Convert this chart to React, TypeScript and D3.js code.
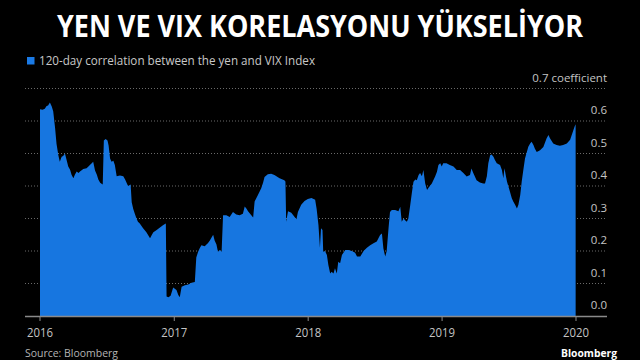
import { useMemo, useRef, useState, useLayoutEffect } from "react";
import * as d3 from "d3";

const W = 640;
const H = 360;

const TITLE = "YEN VE VIX KORELASYONU YÜKSELİYOR";
const LEGEND_LABEL = "120-day correlation between the yen and VIX Index";
const UNIT_LABEL = "coefficient";

const yTicks = [0, 0.1, 0.2, 0.3, 0.4, 0.5, 0.6, 0.7];
const yearTicks = [2016, 2017, 2018, 2019, 2020];

// 120-day correlation
const dates = [
  "2016-01-01", "2016-01-08", "2016-01-14", "2016-01-19", "2016-01-23", "2016-01-28",
  "2016-02-02", "2016-02-06", "2016-02-11", "2016-02-15", "2016-02-20", "2016-02-24",
  "2016-02-29", "2016-03-04", "2016-03-09", "2016-03-13", "2016-03-18", "2016-03-23",
  "2016-03-27", "2016-04-01", "2016-04-05", "2016-04-10", "2016-04-15", "2016-04-19",
  "2016-04-28", "2016-05-07", "2016-05-12", "2016-05-16", "2016-05-21", "2016-05-25",
  "2016-05-30", "2016-06-04", "2016-06-08", "2016-06-13", "2016-06-20", "2016-06-23",
  "2016-06-28", "2016-07-03", "2016-07-06", "2016-07-10", "2016-07-14", "2016-07-19",
  "2016-07-23", "2016-07-28", "2016-08-06", "2016-08-15", "2016-08-20", "2016-08-28",
  "2016-09-04", "2016-09-07", "2016-09-11", "2016-09-15", "2016-09-20", "2016-09-24",
  "2016-09-29", "2016-10-08", "2016-10-17", "2016-10-27", "2016-11-01", "2016-11-05",
  "2016-11-14", "2016-11-23", "2016-12-02", "2016-12-09", "2016-12-11", "2016-12-16",
  "2016-12-22", "2016-12-29", "2017-01-07", "2017-01-12", "2017-01-16", "2017-01-21",
  "2017-01-30", "2017-02-08", "2017-02-17", "2017-02-26", "2017-03-02", "2017-03-07",
  "2017-03-12", "2017-03-16", "2017-03-25", "2017-04-03", "2017-04-08", "2017-04-17",
  "2017-04-21", "2017-04-26", "2017-04-30", "2017-05-05", "2017-05-10", "2017-05-14",
  "2017-05-23", "2017-06-01", "2017-06-10", "2017-06-19", "2017-06-28", "2017-07-07",
  "2017-07-12", "2017-07-17", "2017-07-21", "2017-07-30", "2017-08-04", "2017-08-08",
  "2017-08-17", "2017-08-26", "2017-08-31", "2017-09-04", "2017-09-13", "2017-09-22",
  "2017-10-01", "2017-10-15", "2017-10-28", "2017-10-31", "2017-11-02", "2017-11-07",
  "2017-11-16", "2017-11-25", "2017-11-30", "2017-12-04", "2017-12-13", "2017-12-22",
  "2017-12-31", "2018-01-10", "2018-01-20", "2018-01-24", "2018-01-29", "2018-02-02",
  "2018-02-05", "2018-02-09", "2018-02-11", "2018-02-16", "2018-02-21", "2018-02-25",
  "2018-03-02", "2018-03-06", "2018-03-11", "2018-03-15", "2018-03-20", "2018-03-24",
  "2018-03-29", "2018-04-03", "2018-04-12", "2018-04-21", "2018-04-30", "2018-05-09",
  "2018-05-14", "2018-05-23", "2018-06-01", "2018-06-10", "2018-06-19", "2018-06-28",
  "2018-07-07", "2018-07-16", "2018-07-21", "2018-07-25", "2018-07-30", "2018-08-03",
  "2018-08-08", "2018-08-12", "2018-08-17", "2018-08-26", "2018-09-04", "2018-09-09",
  "2018-09-13", "2018-09-18", "2018-09-22", "2018-09-27", "2018-10-01", "2018-10-06",
  "2018-10-11", "2018-10-15", "2018-10-20", "2018-10-24", "2018-10-29", "2018-11-02",
  "2018-11-07", "2018-11-11", "2018-11-16", "2018-11-21", "2018-11-25", "2018-12-04",
  "2018-12-13", "2018-12-18", "2018-12-22", "2018-12-27", "2018-12-31", "2019-01-04",
  "2019-01-13", "2019-01-22", "2019-02-01", "2019-02-10", "2019-02-19", "2019-02-28",
  "2019-03-09", "2019-03-18", "2019-03-22", "2019-03-27", "2019-04-05", "2019-04-14",
  "2019-04-23", "2019-04-28", "2019-05-03", "2019-05-07", "2019-05-12", "2019-05-16",
  "2019-05-21", "2019-05-25", "2019-05-30", "2019-06-08", "2019-06-13", "2019-06-17",
  "2019-06-20", "2019-06-24", "2019-06-27", "2019-07-01", "2019-07-05", "2019-07-10",
  "2019-07-14", "2019-07-19", "2019-07-24", "2019-07-28", "2019-08-02", "2019-08-06",
  "2019-08-11", "2019-08-15", "2019-08-20", "2019-08-24", "2019-08-29", "2019-09-02",
  "2019-09-07", "2019-09-11", "2019-09-16", "2019-09-25", "2019-10-04", "2019-10-13",
  "2019-10-18", "2019-10-22", "2019-10-31", "2019-11-09", "2019-11-18", "2019-11-27",
  "2019-12-07", "2019-12-16", "2019-12-22", "2019-12-28", "2019-12-31",
];

const values = [
  0.636, 0.635, 0.638, 0.646, 0.648, 0.657,
  0.645, 0.63, 0.58, 0.53, 0.495, 0.475,
  0.49, 0.492, 0.5, 0.482, 0.46, 0.45,
  0.435, 0.424, 0.435, 0.445, 0.44, 0.445,
  0.452, 0.455, 0.46, 0.465, 0.47, 0.475,
  0.448, 0.435, 0.42, 0.41, 0.405, 0.54,
  0.545, 0.54, 0.525, 0.485, 0.475, 0.478,
  0.465, 0.43, 0.432, 0.43, 0.42, 0.4,
  0.405, 0.35, 0.33, 0.316, 0.3, 0.29,
  0.285, 0.27, 0.258, 0.239, 0.25, 0.258,
  0.265, 0.272, 0.28, 0.285, 0.06, 0.058,
  0.062, 0.088, 0.08, 0.065, 0.058, 0.09,
  0.095, 0.097, 0.102, 0.105, 0.18, 0.198,
  0.21, 0.218, 0.215, 0.225, 0.232, 0.25,
  0.232, 0.22, 0.198, 0.203, 0.198, 0.31,
  0.31, 0.305, 0.32, 0.312, 0.31, 0.315,
  0.337, 0.33, 0.322, 0.31, 0.303, 0.352,
  0.372, 0.393, 0.41, 0.428, 0.436, 0.438,
  0.434, 0.424, 0.418, 0.414, 0.29, 0.322,
  0.318, 0.305, 0.298, 0.32, 0.342, 0.354,
  0.36, 0.363, 0.358, 0.33, 0.28, 0.21,
  0.27, 0.265, 0.198, 0.2, 0.188, 0.157,
  0.131, 0.136, 0.131, 0.147, 0.131, 0.167,
  0.162, 0.188, 0.203, 0.203, 0.2, 0.195,
  0.183, 0.183, 0.2, 0.21, 0.218, 0.224,
  0.229, 0.249, 0.254, 0.208, 0.183, 0.2,
  0.27, 0.32, 0.326, 0.326, 0.322, 0.336,
  0.29, 0.3, 0.295, 0.29, 0.3, 0.34,
  0.382, 0.413, 0.42, 0.418, 0.434, 0.44,
  0.43, 0.449, 0.408, 0.388, 0.395, 0.408,
  0.429, 0.444, 0.465, 0.47, 0.46, 0.47,
  0.47, 0.465, 0.46, 0.449, 0.449, 0.44,
  0.429, 0.434, 0.454, 0.44, 0.418, 0.411,
  0.408, 0.408, 0.43, 0.47, 0.495, 0.497,
  0.49, 0.48, 0.47, 0.465, 0.449, 0.424,
  0.455, 0.43, 0.413, 0.398, 0.382, 0.362,
  0.352, 0.342, 0.331, 0.342, 0.372, 0.413,
  0.454, 0.485, 0.505, 0.521, 0.531, 0.536,
  0.526, 0.515, 0.505, 0.51, 0.52, 0.547,
  0.557, 0.547, 0.531, 0.526, 0.524, 0.526,
  0.531, 0.542, 0.562, 0.582, 0.59,
];

const FONT = "'Open Sans', sans-serif";
const TITLE_WIDTH = 526;

export default function App() {
  const parse = d3.timeParse("%Y-%m-%d");
  const data = useMemo(
    () => dates.map((d, i) => ({ date: parse(d)!, value: values[i] })),
    []
  );

  // title is drawn in a regular font and squeezed to the condensed width
  const titleRef = useRef<SVGTextElement>(null);
  const [titleScale, setTitleScale] = useState(0.78);
  useLayoutEffect(() => {
    const w = titleRef.current?.getComputedTextLength();
    if (w) setTitleScale(TITLE_WIDTH / w);
  }, []);

  const gridLeft = 25;
  const gridRight = 607;

  const x = d3
    .scaleTime()
    .domain([new Date(2016, 0, 1), new Date(2020, 0, 1)])
    .range([40, 576]);
  const y = d3.scaleLinear().domain([0, 0.7]).range([316, 88.5]);

  const area = d3
    .area<{ date: Date; value: number }>()
    .x((d) => x(d.date))
    .y0(y(0))
    .y1((d) => y(d.value))
    .curve(d3.curveLinear);

  return (
    <svg
      width={W}
      height={H}
      style={{ position: "absolute", left: 0, top: 0, background: "#000" }}
    >
      <rect x={0} y={0} width={W} height={H} fill="#000" />

      <text
        ref={titleRef}
        transform={`translate(${W / 2},37) scale(${titleScale},1)`}
        textAnchor="middle"
        fill="#fff"
        fontFamily={FONT}
        fontWeight={700}
        fontSize={31}
      >
        {TITLE}
      </text>

      {/* legend */}
      <rect x={27} y={57} width={7.5} height={7.5} fill="#1a7ae6" />
      <text
        x={39}
        y={64.8}
        fill="#c8c8c8"
        fontFamily={FONT}
        fontSize={12}
        textLength={276}
        lengthAdjust="spacingAndGlyphs"
      >
        {LEGEND_LABEL}
      </text>

      {/* grid */}
      {yTicks
        .filter((t) => t > 0)
        .map((t) => (
          <line
            key={t}
            x1={gridLeft}
            x2={gridRight}
            y1={y(t)}
            y2={y(t)}
            stroke="#6a6a6a"
            strokeWidth={1}
            strokeDasharray="1,2"
          />
        ))}

      <path d={area(data) ?? ""} fill="#1776e0" />

      {/* baseline + year ticks */}
      <line
        x1={gridLeft}
        x2={gridRight}
        y1={y(0) + 0.5}
        y2={y(0) + 0.5}
        stroke="#8a8a8a"
        strokeWidth={1.5}
      />
      {yearTicks.map((yr) => {
        const px = x(new Date(yr, 0, 1));
        return (
          <g key={yr}>
            <line
              x1={px}
              x2={px}
              y1={y(0)}
              y2={y(0) + 5}
              stroke="#8a8a8a"
              strokeWidth={1}
            />
            <text
              x={px}
              y={337}
              textAnchor="middle"
              fill="#c4c4c4"
              fontFamily={FONT}
              fontSize={12.5}
              textLength={26}
              lengthAdjust="spacingAndGlyphs"
            >
              {yr}
            </text>
          </g>
        );
      })}

      {/* y labels */}
      {yTicks.map((t) => (
        <text
          key={t}
          x={gridRight}
          y={y(t) - 7}
          textAnchor="end"
          fill="#c4c4c4"
          fontFamily={FONT}
          fontSize={11.5}
        >
          {t === 0.7 ? `${t.toFixed(1)} ${UNIT_LABEL}` : t.toFixed(1)}
        </text>
      ))}

      <text
        x={25}
        y={357}
        fill="#b4b4b4"
        fontFamily={FONT}
        fontSize={11}
        textLength={93}
        lengthAdjust="spacingAndGlyphs"
      >
        Source: Bloomberg
      </text>
      <text
        x={617}
        y={357}
        textAnchor="end"
        fill="#fff"
        fontFamily={FONT}
        fontWeight={700}
        fontSize={11}
        textLength={56}
        lengthAdjust="spacingAndGlyphs"
      >
        Bloomberg
      </text>
    </svg>
  );
}
